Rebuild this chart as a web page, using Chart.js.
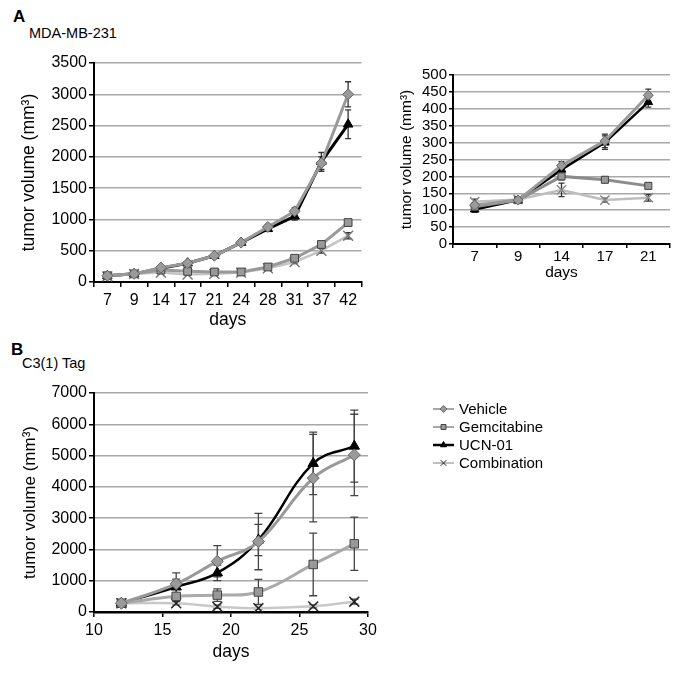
<!DOCTYPE html>
<html>
<head>
<meta charset="utf-8">
<script src="https://cdn.jsdelivr.net/npm/chart.js@4.4.1/dist/chart.umd.min.js"></script>
<style>
  body { margin: 0; background: #fff; width: 685px; height: 678px; position: relative; overflow: hidden;
         font-family: "Liberation Sans", Arial, sans-serif; }
  canvas { position: absolute; }
  .lbl { position: absolute; color: #000; white-space: nowrap; line-height: 1; }
  .panel { font-weight: bold; font-size: 17px; }
  .sub { font-size: 14.5px; }
</style>
</head>
<body>
<div class="lbl panel" style="left:13px;top:8px;">A</div>
<div class="lbl sub" style="left:29px;top:26px;">MDA-MB-231</div>
<div class="lbl panel" style="left:11px;top:341px;">B</div>
<div class="lbl sub" style="left:22px;top:356px;">C3(1) Tag</div>

<canvas id="chartA" width="370" height="300" style="left:0;top:40px;"></canvas>
<canvas id="chartInset" width="310" height="240" style="left:370px;top:60px;"></canvas>
<canvas id="chartB" width="600" height="290" style="left:0;top:380px;"></canvas>

<script>
// ---- panel A, MDA-MB-231 (full time course) ----
const daysA = ['7', '9', '14', '17', '21', '24', '28', '31', '37', '42'];
const vehicleA = [100, 130, 230, 300, 420, 630, 880, 1130, 1900, 3000];
const gemA = [100, 130, 190, 170, 160, 160, 240, 380, 600, 950];
const ucnA = [100, 130, 220, 300, 420, 630, 850, 1050, 1920, 2520];
const comboA = [90, 130, 150, 120, 130, 150, 220, 320, 500, 740];
const vehicleAErr = [5, 5, 15, 20, 25, 30, 40, 60, 100, 200];
const gemAErr = [5, 5, 10, 10, 10, 10, 20, 30, 40, 50];
const ucnAErr = [5, 5, 15, 20, 25, 30, 40, 60, 150, 230];
const comboAErr = [5, 5, 10, 10, 10, 10, 15, 25, 40, 50];
const ticksA = [0, 500, 1000, 1500, 2000, 2500, 3000, 3500];

// ---- panel A inset (days 7-21) ----
const daysInset = ['7', '9', '14', '17', '21'];
const vehicleInset = [115, 130, 232, 305, 440];
const gemInset = [110, 130, 200, 190, 172];
const ucnInset = [102, 130, 220, 300, 420];
const comboInset = [125, 132, 160, 130, 137];
const vehicleInsetErr = [8, 5, 12, 20, 18];
const gemInsetErr = [8, 5, 10, 8, 8];
const ucnInsetErr = [8, 5, 12, 20, 15];
const comboInsetErr = [8, 5, 20, 6, 10];
const ticksInset = [0, 50, 100, 150, 200, 250, 300, 350, 400, 450, 500];

// ---- panel B, C3(1) Tag ----
const daysB = [12, 16, 19, 22, 26, 29];
const vehicleB = [280, 900, 1620, 2250, 4280, 5020];
const gemB = [280, 500, 540, 640, 1520, 2180];
const ucnB = [280, 800, 1250, 2300, 4750, 5300];
const comboB = [280, 280, 170, 120, 180, 330];
const vehicleBErr = [50, 350, 500, 900, 1400, 1300];
const gemBErr = [50, 100, 200, 400, 1000, 850];
const ucnBErr = [50, 250, 250, 500, 1000, 1150];
const comboBErr = [30, 50, 50, 30, 50, 80];
const ticksB = [0, 1000, 2000, 3000, 4000, 5000, 6000, 7000];

const seriesNames = ['Vehicle', 'Gemcitabine', 'UCN-01', 'Combination'];

const FONT = '"Liberation Sans", Arial, sans-serif';

// error bars drawn under the markers
const errorBars = {
    id: 'errorBars',
    beforeDatasetsDraw(chart, args, opts) {
        const ctx = chart.ctx;
        const yScale = chart.scales.y;
        chart.data.datasets.forEach((ds, i) => {
            if (!ds.errors) return;
            const meta = chart.getDatasetMeta(i);
            ctx.save();
            ctx.strokeStyle = ds.errorColor || '#333';
            ctx.lineWidth = opts.width || 1.3;
            meta.data.forEach((pt, j) => {
                const e = ds.errors[j];
                if (!e) return;
                const v = yScale.getValueForPixel(pt.y);
                const top = yScale.getPixelForValue(v + e);
                const bot = yScale.getPixelForValue(Math.max(0, v - e));
                const c = opts.cap || 3;
                ctx.beginPath();
                ctx.moveTo(pt.x, top); ctx.lineTo(pt.x, bot);
                ctx.moveTo(pt.x - c, top); ctx.lineTo(pt.x + c, top);
                ctx.moveTo(pt.x - c, bot); ctx.lineTo(pt.x + c, bot);
                ctx.stroke();
            });
            ctx.restore();
        });
    }
};

// legend with line + marker samples, placed right of panel B
const sideLegend = {
    id: 'sideLegend',
    afterDraw(chart, args, opts) {
        if (!opts.show) return;
        const ctx = chart.ctx;
        chart.data.datasets.forEach((ds, i) => {
            const y = opts.top + i * opts.step;
            const x0 = opts.left;
            ctx.save();
            ctx.strokeStyle = ds.legendLine;
            ctx.lineWidth = ds.legendWidth;
            ctx.beginPath();
            ctx.moveTo(x0, y); ctx.lineTo(x0 + 21, y);
            ctx.stroke();
            ctx.fillStyle = ds.pointBackgroundColor;
            ctx.strokeStyle = ds.pointBorderColor;
            ctx.lineWidth = 1;
            Chart.helpers.drawPoint(ctx, {
                pointStyle: ds.pointStyle, rotation: 0,
                radius: ds.pointStyle === 'crossRot' ? 4 : 3.5, borderWidth: 1
            }, x0 + 10.5, y);
            ctx.fillStyle = '#000';
            ctx.font = '15px ' + FONT;
            ctx.textBaseline = 'middle';
            ctx.fillText(ds.label, x0 + 26, y + 1);
            ctx.restore();
        });
    }
};

function makeSets(values, errors, opt) {
    const styles = [
        { line: '#999999', width: 3, ps: 'rectRot', bg: '#9a9a9a', bd: '#666666', lgLine: '#8a8a8a', lgW: 1.5 },
        { line: opt.gemLine, width: 3, ps: 'rect', bg: '#999999', bd: '#444444', lgLine: '#8a8a8a', lgW: 1.5 },
        { line: '#000000', width: opt.ucnWidth, ps: 'triangle', bg: '#000000', bd: '#000000', lgLine: '#000000', lgW: 2.5 },
        { line: opt.comboLine, width: 2.5, ps: 'crossRot', bg: opt.comboMark, bd: opt.comboMark, lgLine: '#aaaaaa', lgW: 1.5 }
    ];
    return values.map((vals, i) => ({
        label: seriesNames[i],
        data: vals,
        errors: errors[i],
        errorColor: opt.errColor,
        borderColor: styles[i].line,
        borderWidth: styles[i].width,
        pointStyle: styles[i].ps,
        pointBackgroundColor: styles[i].bg,
        pointBorderColor: styles[i].bd,
        pointBorderWidth: styles[i].ps === 'crossRot' ? 1.5 : 1,
        pointRadius: styles[i].ps === 'crossRot' ? opt.crossRadius : opt.radius,
        tension: opt.tension,
        legendLine: styles[i].lgLine,
        legendWidth: styles[i].lgW,
        fill: false
    }));
}

function yAxis(cfg) {
    return {
        min: 0,
        max: cfg.max,
        afterFit: s => { s.width = cfg.width; },
        afterBuildTicks: s => { s.ticks = cfg.ticks.map(v => ({ value: v })); },
        grid: { color: '#a8a8a8', lineWidth: 1.5, tickColor: '#000', tickLength: cfg.tickLen, drawTicks: true },
        border: { color: '#000', width: 2 },
        ticks: {
            color: '#000', padding: 2, autoSkip: false,
            font: { family: FONT, size: cfg.font },
            callback: v => String(v)
        },
        title: {
            display: true, text: 'tumor volume (mm³)', color: '#000',
            font: { family: FONT, size: cfg.titleFont }, padding: { top: cfg.titlePad }
        }
    };
}

function xCategory(cfg) {
    return {
        type: 'category',
        offset: true,
        afterFit: s => { s.height = cfg.height; },
        grid: { offset: true, drawOnChartArea: false, tickColor: '#000', tickLength: cfg.tickLen, lineWidth: 1.5 },
        border: { color: '#000', width: 2 },
        ticks: { color: '#000', padding: cfg.pad, maxRotation: 0, autoSkip: false, font: { family: FONT, size: cfg.font } },
        title: {
            display: true, text: 'days', color: '#000',
            font: { family: FONT, size: cfg.titleFont }, padding: { bottom: cfg.titlePad }
        }
    };
}

Chart.defaults.animation = false;

new Chart(document.getElementById('chartA'), {
    type: 'line',
    data: {
        labels: daysA,
        datasets: makeSets([vehicleA, gemA, ucnA, comboA], [vehicleAErr, gemAErr, ucnAErr, comboAErr],
            { gemLine: '#999999', comboLine: '#c4c4c4', comboMark: '#777777', ucnWidth: 3, radius: 5.5, crossRadius: 7, tension: 0, errColor: '#333' })
    },
    options: {
        responsive: false,
        layout: { padding: { top: 23, right: 7, left: 0, bottom: 0 } },
        plugins: { legend: { display: false }, tooltip: { enabled: false }, errorBars: { cap: 3 } },
        scales: {
            x: xCategory({ height: 58, font: 16, titleFont: 17.5, titlePad: 9, tickLen: 5, pad: 4 }),
            y: yAxis({ max: 3500, ticks: ticksA, width: 94, tickLen: 5, font: 16, titleFont: 17.5, titlePad: 19 })
        }
    },
    plugins: [errorBars]
});

new Chart(document.getElementById('chartInset'), {
    type: 'line',
    data: {
        labels: daysInset,
        datasets: makeSets([vehicleInset, gemInset, ucnInset, comboInset],
            [vehicleInsetErr, gemInsetErr, ucnInsetErr, comboInsetErr],
            { gemLine: '#8c8c8c', comboLine: '#bdbdbd', comboMark: '#888888', ucnWidth: 2.5, radius: 5, crossRadius: 6.5, tension: 0, errColor: '#333' })
    },
    options: {
        responsive: false,
        layout: { padding: { top: 15, right: 10, left: 0, bottom: 0 } },
        plugins: { legend: { display: false }, tooltip: { enabled: false }, errorBars: { cap: 3 } },
        scales: {
            x: xCategory({ height: 56, font: 15, titleFont: 15.5, titlePad: 18, tickLen: 4, pad: 0 }),
            y: yAxis({ max: 500, ticks: ticksInset, width: 83, tickLen: 4, font: 15, titleFont: 15.5, titlePad: 27 })
        }
    },
    plugins: [errorBars]
});

new Chart(document.getElementById('chartB'), {
    type: 'line',
    data: {
        datasets: makeSets(
            [vehicleB, gemB, ucnB, comboB].map(arr => arr.map((v, i) => ({ x: daysB[i], y: v }))),
            [vehicleBErr, gemBErr, ucnBErr, comboBErr],
            { gemLine: '#aaaaaa', comboLine: '#c8c8c8', comboMark: '#222222', ucnWidth: 2.5, radius: 6, crossRadius: 7, tension: 0.4, errColor: '#444' })
    },
    options: {
        responsive: false,
        layout: { padding: { top: 13, right: 232, left: 0, bottom: 0 } },
        plugins: {
            legend: { display: false }, tooltip: { enabled: false },
            errorBars: { cap: 4 },
            sideLegend: { show: true, left: 433, top: 29, step: 18 }
        },
        scales: {
            x: {
                type: 'linear', min: 10, max: 30,
                afterFit: s => { s.height = 58; },
                grid: { drawOnChartArea: false, tickColor: '#000', tickLength: 5, lineWidth: 1.5 },
                border: { color: '#000', width: 2.5 },
                ticks: { stepSize: 5, color: '#000', padding: 4, font: { family: FONT, size: 16 }, callback: v => String(v) },
                title: { display: true, text: 'days', color: '#000', font: { family: FONT, size: 17.5 }, padding: { bottom: 7 } }
            },
            y: yAxis({ max: 7000, ticks: ticksB, width: 94, tickLen: 5, font: 16, titleFont: 17, titlePad: 20 })
        }
    },
    plugins: [errorBars, sideLegend]
});
</script>
</body>
</html>
